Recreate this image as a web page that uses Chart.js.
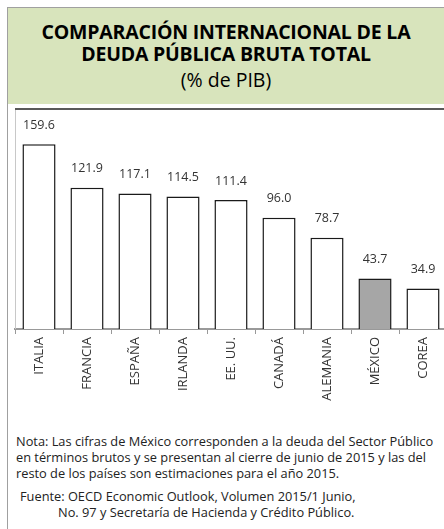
<!DOCTYPE html>
<html><head><meta charset="utf-8">
<script src="https://cdn.jsdelivr.net/npm/chart.js@4/dist/chart.umd.min.js"></script>
<style>
html,body{margin:0;padding:0;background:#fff;overflow:hidden;width:444px;height:529px;}
#frame{position:absolute;left:7px;top:7px;width:440px;height:530px;border-left:1px solid #a0a0a0;border-top:1px solid #a0a0a0;}
#head{position:absolute;left:8px;top:8px;width:436px;height:96px;background:#d8e4bc;text-align:center;font-family:"Open Sans",sans-serif;color:#000;}
#t1{position:absolute;left:0;right:0;top:13px;font-weight:bold;font-size:19.5px;line-height:22px;letter-spacing:-0.2px;}
#t2{position:absolute;left:0;right:0;top:60px;font-size:19.5px;line-height:24px;}
#topline{position:absolute;left:15px;top:108px;width:432px;height:2px;background:#595959;}
#leftline{position:absolute;left:15px;top:110px;width:1px;height:219px;background:#c8c8c8;}
#wrap{position:absolute;left:8px;top:109px;width:439px;height:310px;}
.note{position:absolute;font-family:"Open Sans",sans-serif;font-size:12.8px;line-height:16px;color:#222;white-space:nowrap;}
</style></head><body>
<div id="frame"></div>
<div id="head"><div id="t1">COMPARACIÓN INTERNACIONAL DE LA<br>DEUDA PÚBLICA BRUTA TOTAL</div><div id="t2">(% de PIB)</div></div>
<div id="wrap"><canvas id="c" width="439" height="310"></canvas></div>
<div id="topline"></div>
<div id="leftline"></div>
<div class="note" style="left:16px;top:433px;">Nota: Las cifras de México corresponden a la deuda del Sector Público<br>en términos brutos y se presentan al cierre de junio de 2015 y las del<br>resto de los países son estimaciones para el año 2015.</div>
<div class="note" style="left:20px;top:488px;">Fuente: OECD Economic Outlook, Volumen 2015/1 Junio,</div>
<div class="note" style="left:58px;top:504px;">No. 97 y Secretaría de Hacienda y Crédito Público.</div>
<script>
const categories = ["ITALIA","FRANCIA","ESPAÑA","IRLANDA","EE. UU.","CANADÁ","ALEMANIA","MÉXICO","COREA"];
const debtValues = [159.6, 121.9, 117.1, 114.5, 111.4, 96.0, 78.7, 43.7, 34.9];
const highlight = "MÉXICO";

const fills = categories.map(c => c === highlight ? "#a6a6a6" : "#ffffff");

const valueLabels = {
  id: "valueLabels",
  afterDatasetsDraw(chart) {
    const ctx = chart.ctx;
    const meta = chart.getDatasetMeta(0);
    ctx.save();
    ctx.font = "12.5px 'Open Sans', sans-serif";
    ctx.fillStyle = "#333";
    ctx.textAlign = "center";
    ctx.textBaseline = "middle";
    meta.data.forEach((bar, i) => {
      ctx.fillText(debtValues[i].toFixed(1), bar.x, bar.y - 19);
    });
    ctx.restore();
  }
};

new Chart(document.getElementById("c"), {
  type: "bar",
  data: {
    labels: categories,
    datasets: [{
      data: debtValues,
      backgroundColor: fills,
      borderColor: "#1a1a1a",
      borderWidth: 1.5,
      categoryPercentage: 1,
      barPercentage: 0.69
    }]
  },
  options: {
    responsive: false,
    animation: false,
    layout: { padding: { left: 7, right: 0, top: 0, bottom: 0 } },
    plugins: { legend: { display: false }, tooltip: { enabled: false } },
    scales: {
      y: { display: false, min: 0, max: 190 },
      x: {
        afterFit(s) { s.height = 90; },
        grid: { offset: true, drawOnChartArea: false, tickLength: 5, color: "#999", lineWidth: 1 },
        border: { color: "#999", width: 2 },
        ticks: { color: "#333", font: { family: "'Open Sans', sans-serif", size: 13 }, minRotation: 90, maxRotation: 90, padding: 3 }
      }
    }
  },
  plugins: [valueLabels]
});
</script>
</body></html>
